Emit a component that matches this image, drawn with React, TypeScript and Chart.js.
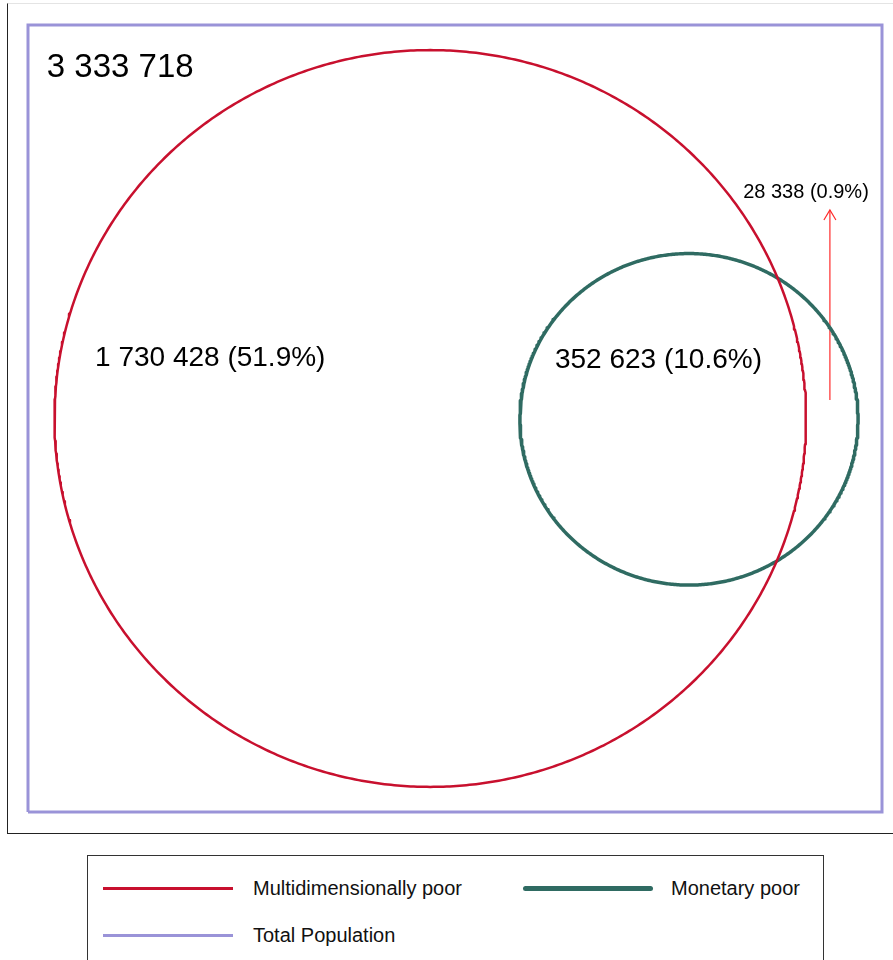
import React, { useEffect, useRef } from "react";
import { Chart, registerables } from "chart.js";

Chart.register(...registerables);

// Series (legend order)
const SERIES_NAMES = ["Multidimensionally poor", "Monetary poor", "Total Population"];
const SERIES_COLORS = ["#c8102e", "#2f6b62", "#9a93d8"];
const SERIES_WIDTHS = [2.5, 3.5, 3];

// Venn geometry in data units (x: 0..100, y: 0..94)
const CIRCLE_CX = [47.1, 77.4];
const CIRCLE_CY = [47.0, 46.9];
const CIRCLE_R = [44.0, 19.8];
const POP_X = [0, 100];
const POP_Y = [0, 94];

// Region counts
const REGION_LABELS = ["3 333 718", "1 730 428 (51.9%)", "352 623 (10.6%)", "28 338 (0.9%)"];
const LABEL_X = [2.2, 7.85, 61.7, 91.1];
const LABEL_Y = [88.9, 54.2, 53.9, 74.0];
const LABEL_SIZE = [33, 28, 28, 20];
const LABEL_ALIGN = ["left", "left", "left", "center"];

// Annotation arrow for the small region
const ARROW_X = [93.9, 93.9];
const ARROW_Y = [49.2, 71.9];

const FONT = "'Liberation Sans', Arial, sans-serif";

function circlePoints(cx: number, cy: number, r: number) {
  const pts: { x: number; y: number }[] = [];
  const n = 720;
  for (let i = 0; i <= n; i++) {
    const a = Math.PI / 2 + (i / n) * Math.PI * 2;
    pts.push({ x: cx + r * Math.cos(a), y: cy + r * Math.sin(a) });
  }
  return pts;
}

const labelPlugin = {
  id: "vennLabels",
  afterDatasetsDraw(chart: any) {
    const { ctx, scales } = chart;
    const xs = scales.x;
    const ys = scales.y;
    ctx.save();
    // arrow head
    const ax = xs.getPixelForValue(ARROW_X[1]);
    const ay = ys.getPixelForValue(ARROW_Y[1]);
    ctx.strokeStyle = "#ff2a2a";
    ctx.lineWidth = 1.2;
    ctx.beginPath();
    ctx.moveTo(ax - 6, ay + 10);
    ctx.lineTo(ax, ay);
    ctx.lineTo(ax + 6, ay + 10);
    ctx.stroke();
    // text labels
    ctx.fillStyle = "#000";
    ctx.textBaseline = "middle";
    REGION_LABELS.forEach((t, i) => {
      ctx.font = `${LABEL_SIZE[i]}px ${FONT}`;
      ctx.textAlign = LABEL_ALIGN[i];
      ctx.fillText(t, xs.getPixelForValue(LABEL_X[i]), ys.getPixelForValue(LABEL_Y[i]));
    });
    ctx.restore();
  },
};

export default function App() {
  const ref = useRef<HTMLCanvasElement | null>(null);

  useEffect(() => {
    if (!ref.current) return;
    const datasets: any[] = [];
    CIRCLE_CX.forEach((cx, i) => {
      datasets.push({
        label: SERIES_NAMES[i],
        data: circlePoints(cx, CIRCLE_CY[i], CIRCLE_R[i]),
        showLine: true,
        borderColor: SERIES_COLORS[i],
        borderWidth: SERIES_WIDTHS[i],
        borderJoinStyle: "round",
        pointRadius: 0,
        fill: false,
        clip: false,
        tension: 0,
      });
    });
    datasets.push({
      label: SERIES_NAMES[2],
      data: [
        { x: POP_X[0], y: POP_Y[0] },
        { x: POP_X[1], y: POP_Y[0] },
        { x: POP_X[1], y: POP_Y[1] },
        { x: POP_X[0], y: POP_Y[1] },
        { x: POP_X[0], y: POP_Y[0] },
      ],
      showLine: true,
      borderColor: SERIES_COLORS[2],
      borderWidth: SERIES_WIDTHS[2],
      pointRadius: 0,
      fill: false,
      clip: false,
      borderJoinStyle: "miter",
    });
    datasets.push({
      label: "arrow",
      data: [
        { x: ARROW_X[0], y: ARROW_Y[0] },
        { x: ARROW_X[1], y: ARROW_Y[1] },
      ],
      showLine: true,
      borderColor: "#ff2a2a",
      borderWidth: 1.2,
      pointRadius: 0,
      fill: false,
      clip: false,
    });

    const chart = new Chart(ref.current, {
      type: "scatter",
      data: { datasets },
      options: {
        animation: false,
        responsive: false,
        events: [],
        layout: { padding: { left: 20, top: 21, right: 11, bottom: 21 } },
        scales: {
          x: { type: "linear", min: POP_X[0], max: POP_X[1], display: false },
          y: { type: "linear", min: POP_Y[0], max: POP_Y[1], display: false },
        },
        plugins: { legend: { display: false }, tooltip: { enabled: false } },
      },
      plugins: [labelPlugin],
    });
    return () => chart.destroy();
  }, []);

  const legendRows = [
    { i: 0, left: 15, top: 32 },
    { i: 1, left: 435, top: 32 },
    { i: 2, left: 15, top: 79 },
  ];
  const textLeft = [165, 583, 165];

  return (
    <div>
      <div
        style={{
          position: "absolute",
          left: 7,
          top: 3,
          width: 900,
          height: 829,
          borderLeft: "1px solid #222",
          borderBottom: "1px solid #222",
          borderTop: "1px solid #e4e4e4",
        }}
      >
        <canvas ref={ref} width={885} height={829} style={{ display: "block", width: 885, height: 829 }} />
      </div>
      <div
        style={{
          position: "absolute",
          left: 87,
          top: 855,
          width: 737,
          height: 130,
          boxSizing: "border-box",
          border: "1px solid #333",
          fontFamily: FONT,
          fontSize: 20,
          color: "#111",
        }}
      >
        {legendRows.map((r, k) => (
          <React.Fragment key={k}>
            <div
              style={{
                position: "absolute",
                left: r.left,
                top: r.top - SERIES_WIDTHS[r.i] / 2,
                width: 130,
                height: SERIES_WIDTHS[r.i] + (r.i === 1 ? 1 : 0.5),
                background: SERIES_COLORS[r.i],
                borderRadius: r.i === 1 ? 3 : 0,
              }}
            />
            <div
              style={{
                position: "absolute",
                left: textLeft[k],
                top: r.top - 13,
                lineHeight: "26px",
                whiteSpace: "nowrap",
              }}
            >
              {SERIES_NAMES[r.i]}
            </div>
          </React.Fragment>
        ))}
      </div>
    </div>
  );
}
